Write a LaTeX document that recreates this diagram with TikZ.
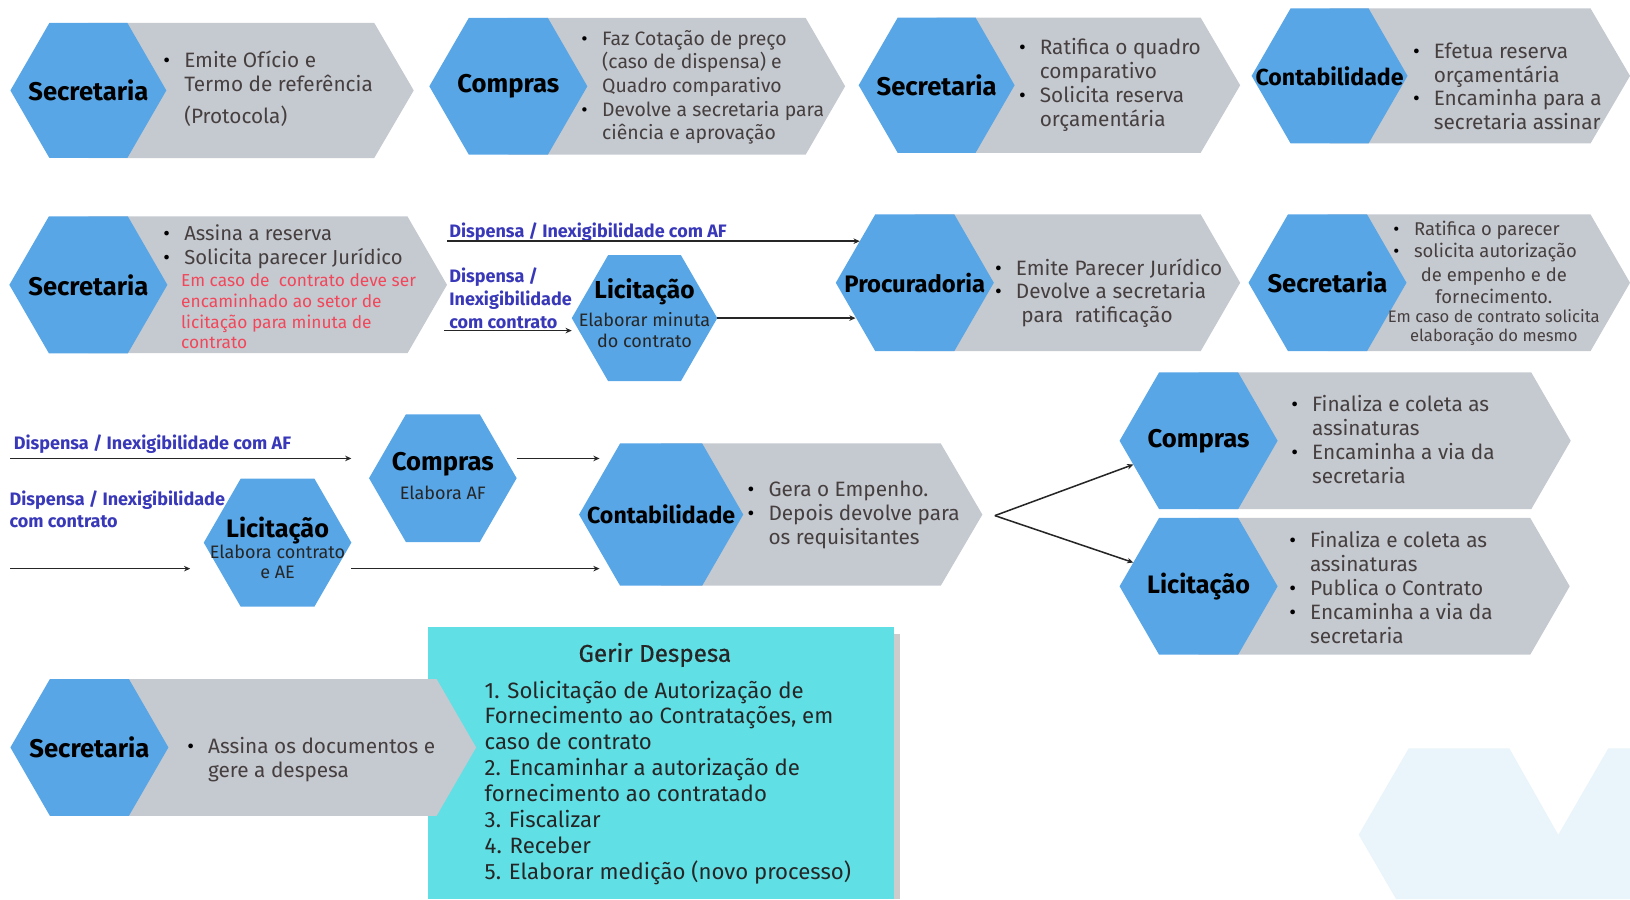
\documentclass[tikz,border=0pt]{standalone}
\usepackage{fontspec}
\setmainfont{Fira Sans}
\usetikzlibrary{shapes.geometric,arrows.meta}

\definecolor{hexblue}{HTML}{58A6E6}
\definecolor{chevgrey}{HTML}{C5C9D0}
\definecolor{bodygrey}{HTML}{463F3F}
\definecolor{lblblue}{HTML}{3838B8}
\definecolor{notered}{HTML}{F2475A}
\definecolor{boxcyan}{HTML}{60DFE5}
\definecolor{wmark}{HTML}{EAF4FB}

\newcommand{\bul}{\makebox[15pt][l]{\textcolor{black}{\textbullet}}}
\newcommand{\ind}{\hspace*{15pt}}

\tikzset{
	hexa/.style={regular polygon, regular polygon sides=6, fill=hexblue, inner sep=0pt, outer sep=0pt},
	chev/.style={fill=chevgrey},
	ttl/.style={font=\bfseries\fontsize{18.5}{21}\selectfont, inner sep=0pt},
	subtxt/.style={font=\fontsize{13}{14.8}\selectfont, text=black!85, align=center, inner sep=0pt},
	body/.style={font=\fontsize{15}{17.25}\selectfont, text=bodygrey, align=left, anchor=west, inner sep=0pt},
	note/.style={font=\fontsize{12.5}{14.8}\selectfont, text=notered, align=left, anchor=west, inner sep=0pt},
	lbl/.style={font=\bfseries\fontsize{13}{16.3}\selectfont, text=lblblue, align=left, anchor=west, inner sep=0pt},
	flow/.style={draw=black!85, line width=1.1pt, -{Stealth[length=4.5pt,width=4pt]}},
}

\begin{document}
\begin{tikzpicture}[x=0.75pt,y=0.75pt,yscale=-1,xscale=1]
	\useasboundingbox (0,0) rectangle (1568,865);

	%Shape: watermark
	\fill[wmark] (1307,803) -- (1355,720) -- (1452,720) -- (1499,803) -- (1547,720) -- (1568,720) -- (1568,865) -- (1343,865) -- cycle;
	%Shape: Rectangle (Gerir Despesa)
	\fill[black!20] (418,610) rectangle (866,865);
	\fill[boxcyan] (412,603) rectangle (860,865);

	%Shape: grey chevrons
	\fill[chev] (85,22) -- (360,22) -- (398,87) -- (360,152) -- (85,152) -- cycle;
	\fill[chev] (489,17.2) -- (775,17.2) -- (813,83) -- (775,148.8) -- (489,148.8) -- cycle;
	\fill[chev] (901,17) -- (1155,17) -- (1193,82) -- (1155,147) -- (901,147) -- cycle;
	\fill[chev] (1279,8) -- (1530,8) -- (1568,73) -- (1530,138) -- (1279,138) -- cycle;
	\fill[chev] (85,208.2) -- (392,208.2) -- (430,274) -- (392,339.8) -- (85,339.8) -- cycle;
	\fill[chev] (880,206.2) -- (1155,206.2) -- (1193,272) -- (1155,337.8) -- (880,337.8) -- cycle;
	\fill[chev] (1277,206.2) -- (1530,206.2) -- (1568,272) -- (1530,337.8) -- (1277,337.8) -- cycle;
	\fill[chev] (636,426.6) -- (905,426.6) -- (945,495) -- (905,563.4) -- (636,563.4) -- cycle;
	\fill[chev] (1153,358.2) -- (1473,358.2) -- (1511,424) -- (1473,489.8) -- (1153,489.8) -- cycle;
	\fill[chev] (1153,498.2) -- (1472,498.2) -- (1510,564) -- (1472,629.8) -- (1153,629.8) -- cycle;
	\fill[chev] (86,653.2) -- (420,653.2) -- (458,719) -- (420,784.8) -- (86,784.8) -- cycle;

	%Shape: Hexagon
	\node[hexa, minimum size=112.5pt] (sec1) at (85,87) {};
	\node[hexa, minimum size=114pt] (cmp1) at (489,83) {};
	\node[hexa, minimum size=112.5pt] (sec2) at (901,82) {};
	\node[hexa, minimum size=112.5pt] (ctb1) at (1279,73) {};
	\node[hexa, minimum size=114pt] (sec3) at (85,274) {};
	\node[hexa, minimum size=105pt] (lic1) at (620,306) {};
	\node[hexa, minimum size=114pt] (proc) at (880,272) {};
	\node[hexa, minimum size=114pt] (sec4) at (1277,272) {};
	\node[hexa, minimum size=106.5pt] (cmp2) at (426,460) {};
	\node[hexa, minimum size=106.5pt] (lic2) at (267,522) {};
	\node[hexa, minimum size=118.5pt] (ctb2) at (636,495) {};
	\node[hexa, minimum size=114pt] (cmp3) at (1153,424) {};
	\node[hexa, minimum size=114pt] (lic3) at (1153,564) {};
	\node[hexa, minimum size=114pt] (sec5) at (86,719) {};

	% Text Node
	\node[ttl] (sec1t) at (sec1) {Secretaria};
	\node[body] (sec1b) at (157,85) {\bul Emite Ofício e\\\ind Termo de referência\\[6pt]\ind (Protocola)};
	% Text Node
	\node[ttl] (cmp1t) at (cmp1) {Compras};
	\node[body, font=\fontsize{14}{17}\selectfont] (cmp1b) at (559,84) {\bul Faz Cotação de preço\\\ind (caso de dispensa) e\\\ind Quadro comparativo\\\bul Devolve a secretaria para\\\ind ciência e aprovação};
	% Text Node
	\node[ttl] (sec2t) at (sec2) {Secretaria};
	\node[body] (sec2b) at (980,82) {\bul Ratifica o quadro\\\ind comparativo\\\bul Solicita reserva\\\ind orçamentária};
	% Text Node
	\node[ttl, font=\bfseries\fontsize{16.7}{20}\selectfont] (ctb1t) at (ctb1) {Contabilidade};
	\node[body] (ctb1b) at (1359,83) {\bul Efetua reserva\\\ind orçamentária\\\bul Encaminha para a\\\ind secretaria assinar};

	% Text Node
	\node[ttl] (sec3t) at (sec3) {Secretaria};
	\node[body, font=\fontsize{14.6}{17.25}\selectfont] (sec3b) at (157,237.5) {\bul Assina a reserva\\\bul Solicita parecer Jurídico};
	\node[note] (sec3n) at (174,299.5) {Em caso de\ \ contrato deve ser\\encaminhado ao setor de\\licitação para minuta de\\contrato};
	% Text Node
	\node[lbl] (lbl1) at (432,223) {Dispensa / Inexigibilidade com AF};
	\node[lbl] (lbl2) at (432,287) {Dispensa /\\Inexigibilidade\\com contrato};
	% Text Node
	\node[ttl, font=\bfseries\fontsize{17.7}{20}\selectfont] (lic1t) at (620,281) {Licitação};
	\node[subtxt] (lic1s) at (620,317.5) {Elaborar minuta\\do contrato};
	% Text Node
	\node[ttl, font=\bfseries\fontsize{17.2}{20}\selectfont] (proct) at (proc) {Procuradoria};
	\node[body] (procb) at (957,282) {\bul Emite Parecer Jurídico\\\bul Devolve a secretaria\\\ind\ para\ \ ratificação};
	% Text Node
	\node[ttl] (sec4t) at (sec4) {Secretaria};
	\node[body, font=\fontsize{13.3}{16}\selectfont] (sec4b) at (1340,232) {\bul Ratifica o parecer\\\bul solicita autorização};
	\node[body, anchor=center, align=center, font=\fontsize{13.3}{16}\selectfont] (sec4c) at (1437,274.5) {de empenho e de\\fornecimento.};
	\node[body, anchor=center, align=center, font=\fontsize{12}{13.5}\selectfont] (sec4n) at (1437,315) {Em caso de contrato solicita\\elaboração do mesmo};

	% Text Node
	\node[lbl] (lbl3) at (13,427) {Dispensa / Inexigibilidade com AF};
	\node[lbl] (lbl4) at (9,490) {Dispensa / Inexigibilidade\\com contrato};
	% Text Node
	\node[ttl] (cmp2t) at (426,447) {Compras};
	\node[subtxt] (cmp2s) at (426,474) {Elabora AF};
	% Text Node
	\node[ttl, font=\bfseries\fontsize{18.2}{20}\selectfont] (lic2t) at (267,510) {Licitação};
	\node[subtxt] (lic2s) at (267,540.5) {Elabora contrato\\e AE};
	% Text Node
	\node[ttl, font=\bfseries\fontsize{16.7}{20}\selectfont] (ctb2t) at (ctb2) {Contabilidade};
	\node[body] (ctb2b) at (719,495.5) {\bul Gera o Empenho.\\\bul Depois devolve para\\\ind os requisitantes};
	% Text Node
	\node[ttl] (cmp3t) at (cmp3) {Compras};
	\node[body] (cmp3b) at (1242,422.5) {\bul Finaliza e coleta as\\\ind assinaturas\\\bul Encaminha a via da\\\ind secretaria};
	% Text Node
	\node[ttl, font=\bfseries\fontsize{18.2}{20}\selectfont] (lic3t) at (lic3) {Licitação};
	\node[body] (lic3b) at (1240,565) {\bul Finaliza e coleta as\\\ind assinaturas\\\bul Publica o Contrato\\\bul Encaminha a via da\\\ind secretaria};

	% Text Node
	\node[ttl] (sec5t) at (sec5) {Secretaria};
	\node[body] (sec5b) at (180,730.5) {\bul Assina os documentos e\\\ind gere a despesa};
	% Text Node
	\node[font=\fontsize{17.5}{20}\selectfont\addfontfeature{FakeBold=0.6}, text=black!85, inner sep=0pt] (boxt) at (630,630) {Gerir Despesa};
	\node[font=\fontsize{16}{18.7}\selectfont, text=black!85, align=left, anchor=west, inner sep=0pt] (boxl) at (466,753) {1. Solicitação de Autorização de\\Fornecimento ao Contratações, em\\caso de contrato\\2. Encaminhar a autorização de\\fornecimento ao contratado\\3. Fiscalizar\\4. Receber\\5. Elaborar medição (novo processo)};

	%Straight Lines
	\coordinate (af1) at (430,232);
	\coordinate (af2) at (427,318);
	\coordinate (af3) at (10,441);
	\coordinate (af4) at (10,547);
	\coordinate (fan) at (957,496);
	\draw[flow] (af1) -- (af1 -| proc.143);
	\draw[flow] (af2) -- (af2 -| lic1.west);
	\draw[flow] (lic1.east) -- (lic1.east -| proc.210);
	\draw[flow, shorten >=12.75pt] (af3) -- (af3 -| cmp2.west);
	\draw[flow, shorten >=9.75pt] (af4) -- (af4 -| lic2.west);
	\draw[flow] (cmp2.east |- af3) -- (af3 -| ctb2.150);
	\draw[flow] (lic2.east |- af4) -- (af4 -| ctb2.210);
	\draw[flow] (fan) -- (cmp3.200);
	\draw[flow] (fan) -- (lic3.160);
\end{tikzpicture}
\end{document}
